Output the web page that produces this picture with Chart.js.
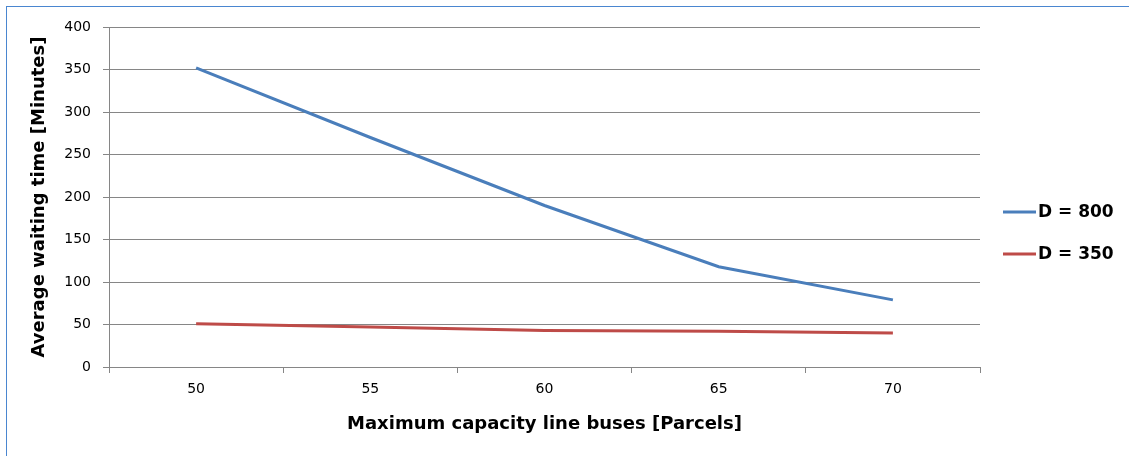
<!DOCTYPE html>
<html>
<head>
<meta charset="utf-8">
<script src="https://cdn.jsdelivr.net/npm/chart.js@4.4.0/dist/chart.umd.min.js"></script>
<style>
    html, body { margin: 0; padding: 0; background: #fff; }
    #wrap { position: relative; width: 1129px; height: 456px; overflow: hidden; }
    #frame { position: absolute; left: 6px; top: 6px; width: 1200px; height: 500px; border-left: 1px solid #4a86d0; border-top: 1px solid #4a86d0; pointer-events: none; }
    canvas { position: absolute; left: 0; top: 0; }
</style>
</head>
<body>
<div id="wrap">
    <canvas id="chart" width="1129" height="456"></canvas>
    <div id="frame"></div>
</div>
<script>
// capacity categories (x axis)
const capacities = ['50', '55', '60', '65', '70'];
// average waiting time in minutes
const waitD800 = [352, 270, 190, 118, 79];
const waitD350 = [51, 47, 43, 42, 40];
const seriesNames = ['D = 800', 'D = 350'];
const seriesColors = ['#4a7ebb', '#be4b48'];

const FONT = "'DejaVu Sans', 'Liberation Sans', sans-serif";
const GRID = '#868686';

// legend drawn to the right of the plot, line swatch + bold label
const sideLegend = {
    id: 'sideLegend',
    afterDraw(chart) {
        const ctx = chart.ctx;
        const x0 = chart.chartArea.right + 23;
        const rowH = 42;
        const y0 = 212;
        ctx.save();
        ctx.font = 'bold 17px ' + FONT;
        ctx.textBaseline = 'middle';
        chart.data.datasets.forEach((ds, i) => {
            const y = y0 + i * rowH;
            ctx.strokeStyle = ds.borderColor;
            ctx.lineWidth = 3;
            ctx.beginPath();
            ctx.moveTo(x0, y);
            ctx.lineTo(x0 + 33, y);
            ctx.stroke();
            ctx.fillStyle = '#000';
            ctx.fillText(ds.label, x0 + 35, y + 1);
        });
        ctx.restore();
    }
};

new Chart(document.getElementById('chart').getContext('2d'), {
    type: 'line',
    data: {
        labels: capacities,
        datasets: [
            { label: seriesNames[0], data: waitD800, borderColor: seriesColors[0], borderWidth: 3, pointRadius: 0, tension: 0 },
            { label: seriesNames[1], data: waitD350, borderColor: seriesColors[1], borderWidth: 3, pointRadius: 0, tension: 0 }
        ]
    },
    options: {
        responsive: false,
        animation: false,
        layout: { padding: { left: 29, right: 149, top: 27, bottom: 21 } },
        plugins: {
            legend: { display: false },
            tooltip: { enabled: false }
        },
        scales: {
            x: {
                type: 'category',
                offset: true,
                grid: { offset: true, drawOnChartArea: false, drawTicks: true, tickLength: 6, color: GRID },
                border: { display: true, color: GRID, width: 1 },
                ticks: { color: '#000', padding: 8, font: { family: FONT, size: 14 } },
                title: {
                    display: true,
                    text: 'Maximum capacity line buses [Parcels]',
                    color: '#000',
                    font: { family: FONT, size: 18, weight: 'bold' },
                    padding: { top: 8, bottom: 0 }
                },
                afterFit(scale) { scale.height = 68; }
            },
            y: {
                min: 0,
                max: 400,
                ticks: { stepSize: 50, color: '#000', padding: 12, font: { family: FONT, size: 14 } },
                grid: { color: GRID, tickLength: 6 },
                border: { display: true, color: GRID, width: 1 },
                title: {
                    display: true,
                    text: 'Average waiting time [Minutes]',
                    color: '#000',
                    font: { family: FONT, size: 18, weight: 'bold' },
                    padding: { top: 0, bottom: 6 }
                },
                afterFit(scale) { scale.width = 80; }
            }
        }
    },
    plugins: [sideLegend]
});
</script>
</body>
</html>
